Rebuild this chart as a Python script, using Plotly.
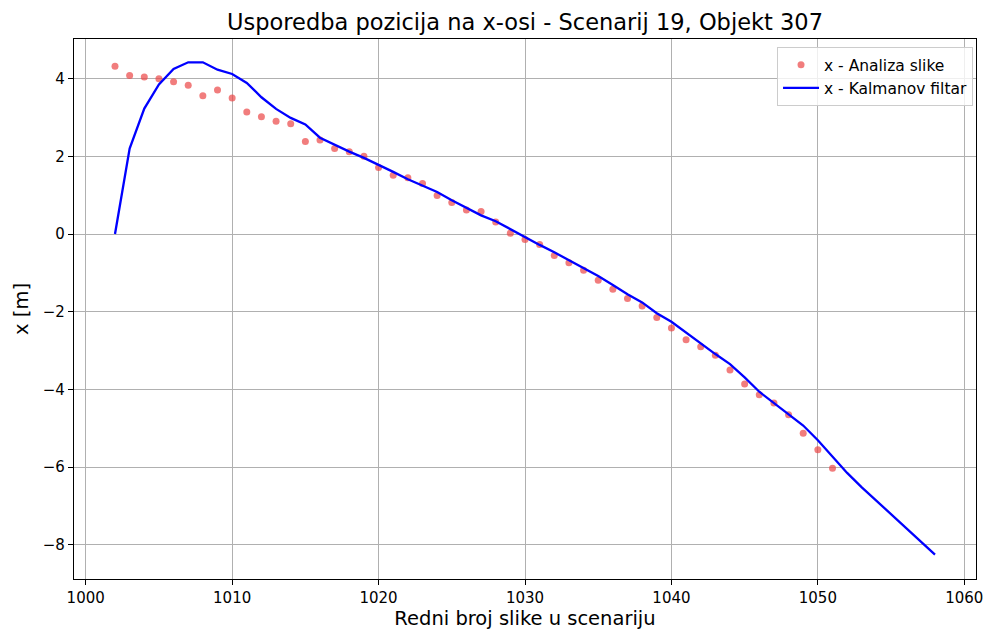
import plotly.graph_objects as go

frames_img = list(range(1002, 1052))
x_img = [4.32, 4.08, 4.04, 4.00, 3.92, 3.83, 3.56, 3.71, 3.50, 3.14,
         3.02, 2.90, 2.84, 2.38, 2.42, 2.20, 2.12, 2.00, 1.71, 1.51,
         1.45, 1.30, 0.99, 0.81, 0.62, 0.58, 0.31, 0.02, -0.14, -0.27,
         -0.55, -0.74, -0.93, -1.19, -1.42, -1.66, -1.85, -2.15, -2.42, -2.72,
         -2.90, -3.12, -3.50, -3.86, -4.14, -4.35, -4.65, -5.13, -5.55, -6.03]

frames_kf = list(range(1002, 1059))
x_kf = [0.0, 2.20, 3.23, 3.85, 4.25, 4.42, 4.42, 4.23, 4.12, 3.89,
        3.52, 3.22, 2.99, 2.82, 2.48, 2.29, 2.12, 1.96, 1.79, 1.60,
        1.41, 1.25, 1.08, 0.87, 0.68, 0.48, 0.33, 0.12, -0.08, -0.28,
        -0.47, -0.67, -0.86, -1.08, -1.31, -1.55, -1.76, -2.04, -2.26, -2.54,
        -2.82, -3.09, -3.35, -3.69, -4.06, -4.35, -4.63, -4.93, -5.31, -5.73,
        -6.15, -6.52, -6.87, -7.21, -7.55, -7.90, -8.25]

title_text = "Usporedba pozicija na x-osi - Scenarij 19, Objekt 307"
x_label = "Redni broj slike u scenariju"
y_label = "x [m]"
x_ticks = [1000, 1010, 1020, 1030, 1040, 1050, 1060]
y_ticks = [-8, -6, -4, -2, 0, 2, 4]

FONT = "DejaVu Sans"

fig = go.Figure()
fig.add_trace(go.Scatter(
    x=frames_img, y=x_img, mode="markers", name="x - Analiza slike",
    marker=dict(color="rgba(235,70,70,0.7)", size=7, line=dict(width=0)),
))
fig.add_trace(go.Scatter(
    x=frames_kf, y=x_kf, mode="lines", name="x - Kalmanov filtar",
    line=dict(color="#0000ff", width=2.3),
))

axis_common = dict(
    showgrid=True, gridcolor="#b0b0b0", gridwidth=1.2,
    showline=True, linecolor="black", linewidth=1.2, mirror=True,
    ticks="outside", ticklen=5, tickcolor="black", tickwidth=1.2,
    zeroline=False,
    tickfont=dict(family=FONT, size=15, color="black"),
)

# the page body adds an 8px offset; the figure is sized to compensate
fig.update_layout(
    width=987, height=629,
    paper_bgcolor="white", plot_bgcolor="white",
    margin=dict(l=66, r=12, t=31, b=56),
    title=dict(text=title_text, x=0.5, xref="paper", xanchor="center",
               y=1 - 14 / 629, yref="container", yanchor="middle",
               font=dict(family=FONT, size=22.5, color="black")),
    xaxis=dict(range=[999.2, 1060.8], tickvals=x_ticks,
               title=dict(text=x_label, font=dict(family=FONT, size=19.5, color="black"), standoff=4),
               **axis_common),
    yaxis=dict(range=[-8.88, 5.02], tickvals=y_ticks,
               title=dict(text=y_label, font=dict(family=FONT, size=19.5, color="black"), standoff=8),
               **axis_common),
    legend=dict(x=0.9967, y=0.985, xanchor="right", yanchor="top",
                bgcolor="rgba(255,255,255,0.8)", bordercolor="#cccccc", borderwidth=1,
                font=dict(family=FONT, size=15.5, color="black"),
                tracegroupgap=0, itemwidth=36),
    showlegend=True,
)

fig.write_html("out.html")
